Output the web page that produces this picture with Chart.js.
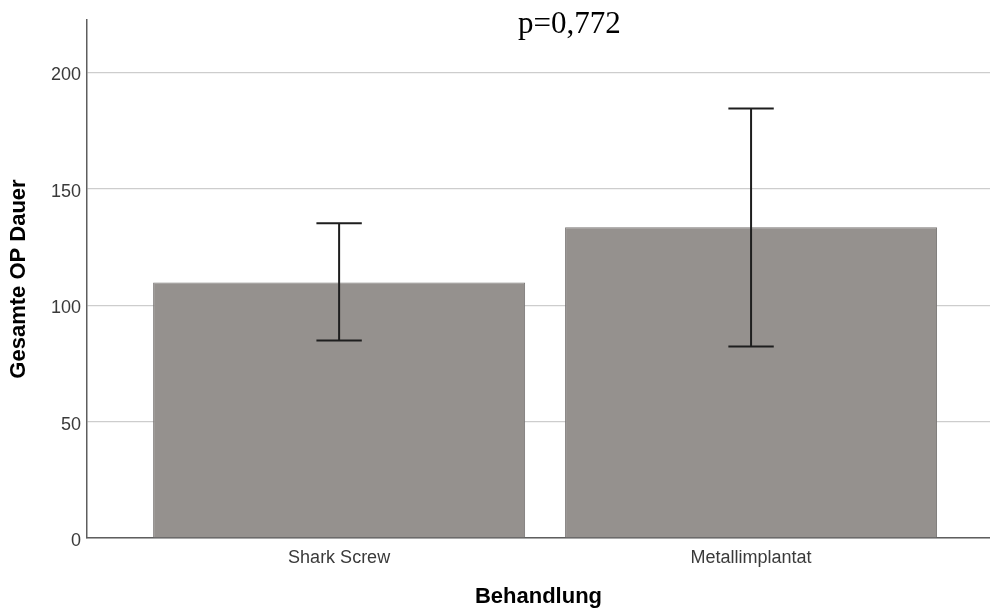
<!DOCTYPE html>
<html>
<head>
<meta charset="utf-8">
<script src="https://cdn.jsdelivr.net/npm/chart.js@4/dist/chart.umd.min.js"></script>
<style>
  html, body { margin: 0; padding: 0; background: #fff; }
  #wrap { width: 990px; height: 610px; }
</style>
</head>
<body>
<div id="wrap"><canvas id="opChart" width="990" height="610"></canvas></div>
<script>
// Data
const categories = ["Shark Screw", "Metallimplantat"];
const meanValues = [109.8, 133.5];
const errorLow = [84.8, 82.3];
const errorHigh = [135.2, 184.5];
const yTickValues = [0, 50, 100, 150, 200];
const pValueText = "p=0,772";

const barFill = '#95918e';
const barBorder = '#7a7775';

// Draws the error bars and the p-value label
const errorBarPlugin = {
    id: 'errorBars',
    afterDatasetsDraw(chart) {
        const ctx = chart.ctx;
        const xScale = chart.scales.x;
        const yScale = chart.scales.y;
        const meta = chart.getDatasetMeta(0);
        ctx.save();
        ctx.strokeStyle = '#1e1e1e';
        ctx.lineWidth = 2;
        categories.forEach(function(cat, i) {
            const x = xScale.getPixelForValue(i);
            const yTop = yScale.getPixelForValue(errorHigh[i]);
            const yBot = yScale.getPixelForValue(errorLow[i]);
            const half = meta.data[i].width * 0.061;
            ctx.beginPath();
            ctx.moveTo(x, yTop);
            ctx.lineTo(x, yBot);
            ctx.moveTo(x - half, yTop);
            ctx.lineTo(x + half, yTop);
            ctx.moveTo(x - half, yBot);
            ctx.lineTo(x + half, yBot);
            ctx.stroke();
        });
        ctx.restore();
    },
    afterDraw(chart) {
        const ctx = chart.ctx;
        ctx.save();
        ctx.font = '31px "Liberation Serif", "Times New Roman", serif';
        ctx.fillStyle = '#000';
        ctx.textAlign = 'left';
        ctx.textBaseline = 'alphabetic';
        ctx.fillText(pValueText, 518, 33);
        ctx.restore();
    }
};

const ctx = document.getElementById('opChart').getContext('2d');
const myChart = new Chart(ctx, {
    type: 'bar',
    data: {
        datasets: [{
            data: categories.map(function(c, i) { return { x: i, y: meanValues[i] }; }),
            backgroundColor: barFill,
            borderColor: barBorder,
            borderWidth: 1,
            barPercentage: 0.903,
            categoryPercentage: 1.0
        }]
    },
    options: {
        responsive: false,
        animation: false,
        layout: { padding: { top: 20, right: 0, left: 0, bottom: 0 } },
        plugins: {
            legend: { display: false },
            tooltip: { enabled: false }
        },
        scales: {
            x: {
                type: 'linear',
                offset: false,
                min: -0.612,
                max: 1.58,
                afterBuildTicks: function(scale) {
                    scale.ticks = categories.map(function(c, i) { return { value: i }; });
                },
                afterFit: function(scale) { scale.height = 72; },
                grid: { display: false, drawTicks: false, offset: false },
                border: { display: true, color: '#5e5e5e', width: 1.5 },
                ticks: {
                    padding: 9,
                    color: '#3a3a3a',
                    font: { family: '"Liberation Sans", Arial, sans-serif', size: 18 },
                    callback: function(value) { return categories[value]; }
                },
                title: {
                    display: true,
                    text: 'Behandlung',
                    color: '#000',
                    padding: { top: 0, bottom: 0 },
                    font: { family: '"Liberation Sans", Arial, sans-serif', size: 22, weight: 'bold', lineHeight: 1.2 }
                }
            },
            y: {
                min: 0,
                max: 222.5,
                afterBuildTicks: function(scale) {
                    scale.ticks = yTickValues.map(function(v) { return { value: v }; });
                },
                afterFit: function(scale) { scale.width = 87; },
                grid: { color: '#cdcdcd', lineWidth: 1.2, drawTicks: false },
                border: { display: true, color: '#5e5e5e', width: 1.5 },
                ticks: {
                    padding: 6,
                    labelOffset: 3,
                    color: '#3a3a3a',
                    font: { family: '"Liberation Sans", Arial, sans-serif', size: 18 }
                },
                title: {
                    display: true,
                    text: 'Gesamte OP Dauer',
                    color: '#000',
                    padding: { top: 6, bottom: 0 },
                    font: { family: '"Liberation Sans", Arial, sans-serif', size: 22, weight: 'bold', lineHeight: 1.2 }
                }
            }
        }
    },
    plugins: [errorBarPlugin]
});
</script>
</body>
</html>
